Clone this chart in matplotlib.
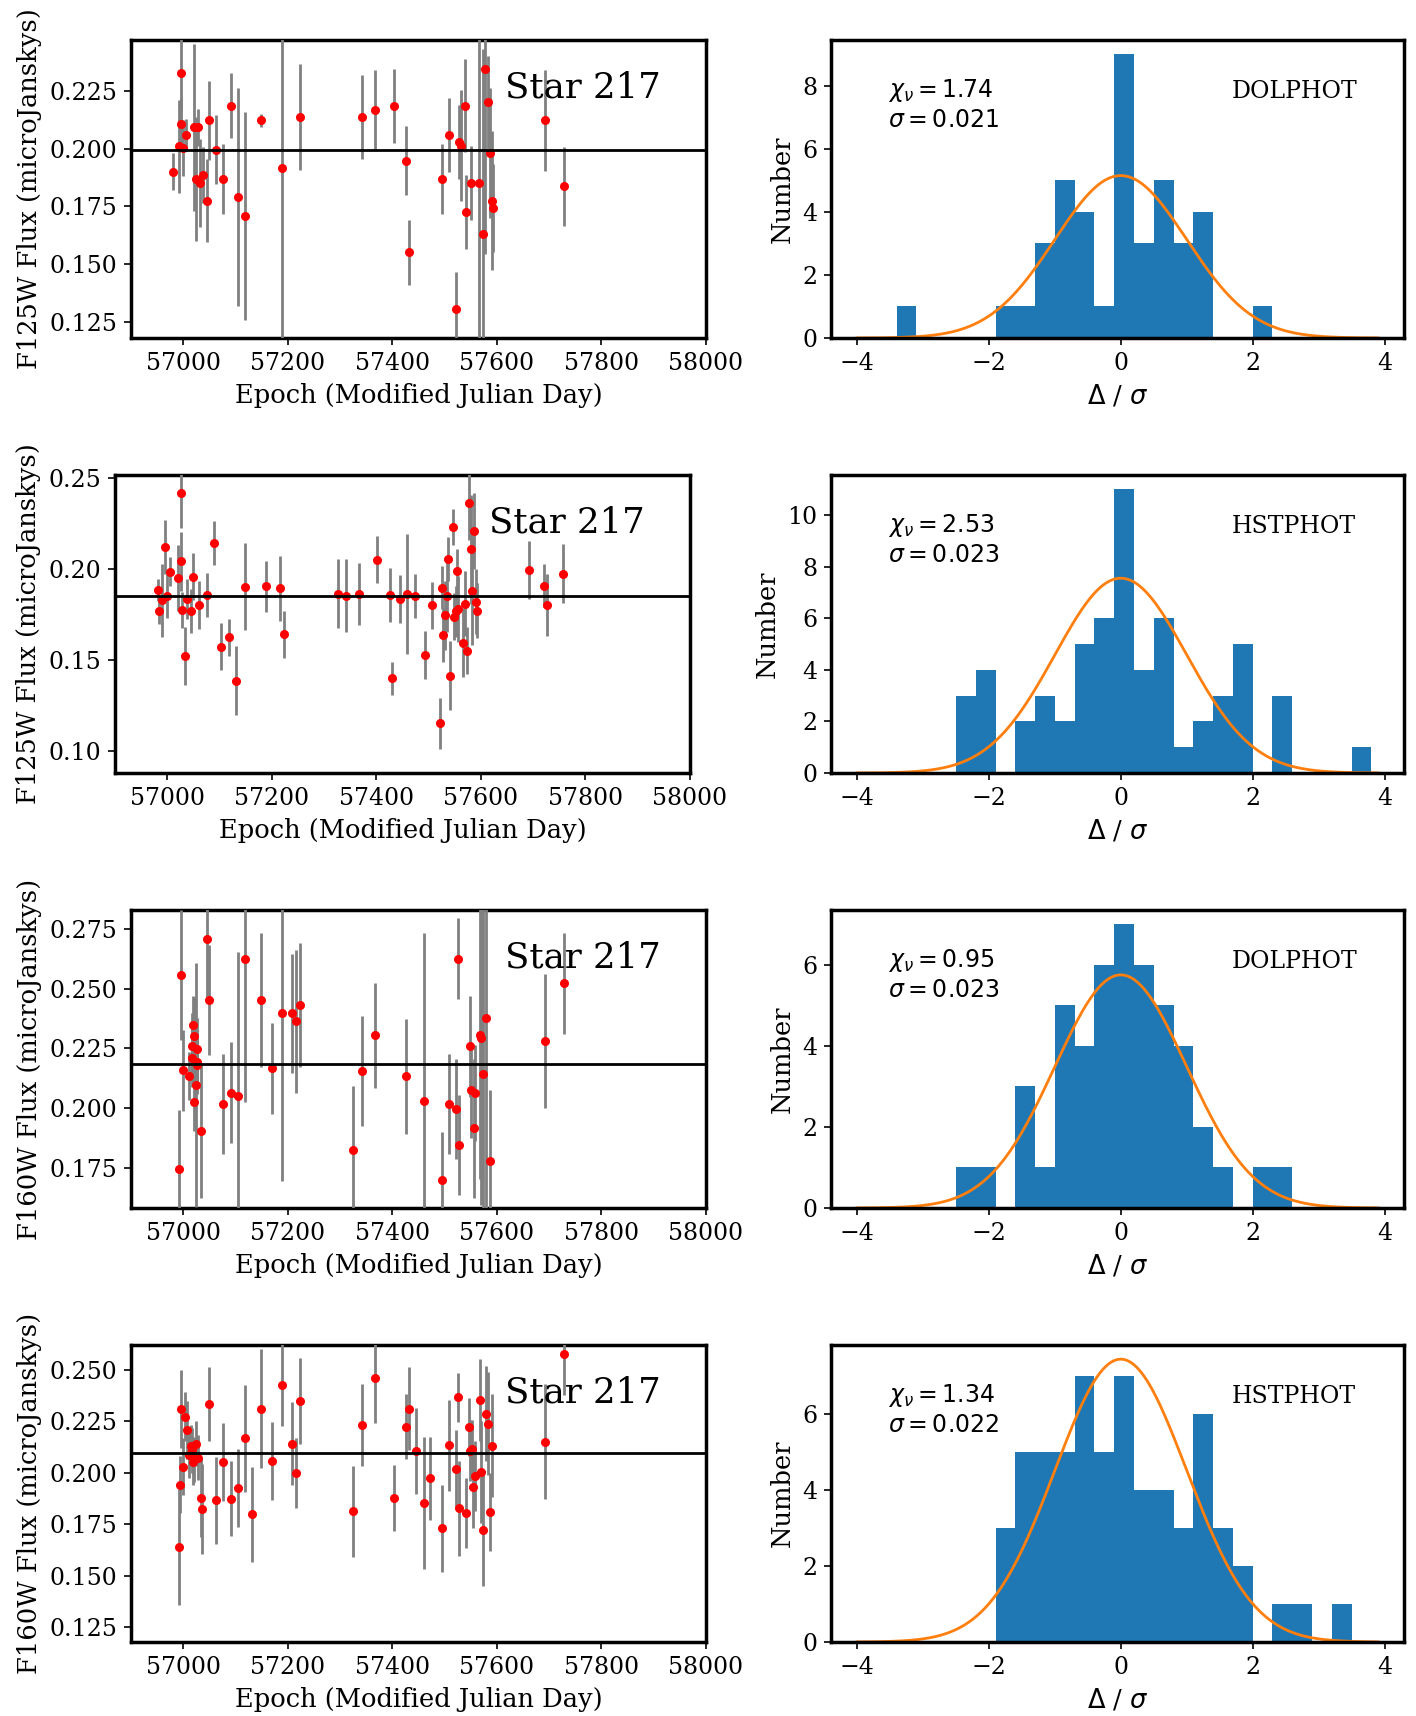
import numpy as np
import matplotlib
matplotlib.use("Agg")
import matplotlib.pyplot as plt

plt.rcParams['font.family'] = 'DejaVu Serif'
plt.rcParams['mathtext.fontset'] = 'dejavusans'

# ---------------- light-curve data ----------------
mjd1 = [56981, 56991, 56996.5, 56995, 57000, 57006, 57021, 57025, 57029, 57032.5,
        57037, 57045, 57049, 57062, 57076.5, 57090.5, 57104.6, 57118.7, 57149.4, 57189,
        57224, 57341, 57367.5, 57402.6, 57426, 57431, 57494, 57508, 57521, 57527.5,
        57532, 57539, 57541.5, 57550, 57566, 57573, 57577.5, 57583, 57586, 57590,
        57592.5, 57692, 57728]
flux1 = [0.1901, 0.2010, 0.2327, 0.2107, 0.2003, 0.2059, 0.2092, 0.1869, 0.2092, 0.1851,
         0.1886, 0.1775, 0.2122, 0.1996, 0.1869, 0.2186, 0.1791, 0.1710, 0.2122, 0.1916,
         0.2137, 0.2137, 0.2169, 0.2186, 0.1948, 0.1552, 0.1869, 0.2059, 0.1307, 0.2029,
         0.2013, 0.2186, 0.1726, 0.1853, 0.1853, 0.1631, 0.2344, 0.2200, 0.1981, 0.1775,
         0.1742, 0.2122, 0.1837]
err1 = [0.008, 0.020, 0.016, 0.011, 0.012, 0.007, 0.036, 0.027, 0.008, 0.019,
        0.012, 0.018, 0.017, 0.015, 0.015, 0.014, 0.047, 0.045, 0.003, 0.080,
        0.023, 0.018, 0.017, 0.016, 0.015, 0.014, 0.015, 0.016, 0.016, 0.016,
        0.024, 0.020, 0.016, 0.016, 0.080, 0.080, 0.080, 0.020, 0.028, 0.030,
        0.019, 0.022, 0.017]

mjd2 = [56982.4, 56983.3, 56990, 56995.6, 57000, 57006, 57021, 57025.5, 57026, 57029,
        57033.4, 57037, 57045, 57049, 57061.5, 57076.5, 57089.7, 57103.7, 57117.8, 57131.9,
        57148.6, 57188, 57216, 57224, 57326, 57341, 57367.5, 57401.8, 57426.4, 57430.8,
        57444.8, 57458.9, 57473, 57493, 57507, 57521.3, 57524.8, 57526.6, 57531.9, 57535.4,
        57537, 57541.5, 57546, 57549.4, 57553.8, 57552, 57556.5, 57566, 57569.6, 57573,
        57576.7, 57580.2, 57583.7, 57586.4, 57590, 57592.5, 57691.9, 57720.9, 57727, 57757]
flux2 = [0.1881, 0.1765, 0.1827, 0.2119, 0.1850, 0.1984, 0.1949, 0.2040, 0.2414, 0.1772,
         0.1522, 0.1832, 0.1766, 0.1956, 0.1801, 0.1854, 0.2142, 0.1571, 0.1622, 0.1385,
         0.1901, 0.1903, 0.1892, 0.1640, 0.1863, 0.1852, 0.1863, 0.2049, 0.1856, 0.1398,
         0.1834, 0.1861, 0.1850, 0.1526, 0.1799, 0.1150, 0.1896, 0.1635, 0.1743, 0.1850,
         0.2055, 0.1411, 0.2228, 0.1737, 0.1989, 0.1766, 0.1779, 0.1593, 0.1808, 0.1549,
         0.2360, 0.2106, 0.1880, 0.2206, 0.1819, 0.1770, 0.1991, 0.1907, 0.1799, 0.1973]
err2 = [0.006, 0.007, 0.020, 0.015, 0.012, 0.008, 0.018, 0.016, 0.019, 0.010,
        0.016, 0.011, 0.012, 0.013, 0.013, 0.012, 0.012, 0.013, 0.010, 0.019,
        0.024, 0.014, 0.018, 0.013, 0.019, 0.020, 0.017, 0.013, 0.015, 0.009,
        0.013, 0.033, 0.012, 0.013, 0.013, 0.014, 0.012, 0.015, 0.019, 0.020,
        0.012, 0.019, 0.010, 0.013, 0.012, 0.014, 0.018, 0.019, 0.018, 0.013,
        0.020, 0.030, 0.030, 0.021, 0.018, 0.015, 0.016, 0.012, 0.017, 0.016]

mjd3 = [56991.2, 56996.5, 57000, 57011.4, 57015.8, 57016.7, 57018.5, 57020.2, 57021, 57023.7,
        57026.4, 57027, 57026.4, 57033.4, 57044.8, 57049.2, 57076.5, 57090.5, 57104.6, 57118.7,
        57149.4, 57168.8, 57189, 57208.3, 57216.2, 57224, 57325.3, 57341, 57367.5, 57426.4,
        57459.8, 57494, 57508, 57521.3, 57524.8, 57527.5, 57548.6, 57551.2, 57556.5, 57558.2,
        57567, 57569.6, 57573.2, 57578.4, 57586.4, 57691.9, 57728]
flux3 = [0.1744, 0.2557, 0.2158, 0.2134, 0.2260, 0.2211, 0.2349, 0.2304, 0.2027, 0.2098,
         0.2246, 0.2194, 0.2180, 0.1904, 0.2706, 0.2454, 0.2018, 0.2065, 0.2053, 0.2626,
         0.2454, 0.2167, 0.2397, 0.2397, 0.2363, 0.2432, 0.1824, 0.2156, 0.2305, 0.2134,
         0.2031, 0.1699, 0.2018, 0.1997, 0.2626, 0.1847, 0.2259, 0.2077, 0.1916, 0.2065,
         0.2305, 0.2295, 0.2145, 0.2376, 0.1778, 0.2283, 0.2522]
err3 = [0.025, 0.027, 0.017, 0.010, 0.014, 0.012, 0.012, 0.016, 0.012, 0.051,
        0.013, 0.010, 0.012, 0.028, 0.025, 0.023, 0.021, 0.021, 0.060, 0.060,
        0.028, 0.019, 0.070, 0.025, 0.030, 0.026, 0.027, 0.023, 0.022, 0.024,
        0.070, 0.020, 0.021, 0.021, 0.017, 0.021, 0.021, 0.020, 0.029, 0.020,
        0.060, 0.070, 0.080, 0.080, 0.030, 0.028, 0.021]

mjd4 = [56991.2, 56993.8, 56996.5, 57000, 57002.6, 57007, 57011.4, 57014, 57016.7, 57019.3,
        57021, 57024.6, 57027.3, 57033.4, 57036, 57049.2, 57062.4, 57076.5, 57090.5, 57104.6,
        57118.7, 57131.9, 57149.4, 57168.8, 57189, 57208.3, 57216.2, 57224, 57325.3, 57341,
        57367.5, 57402.6, 57426.4, 57432.5, 57444.8, 57459.8, 57472, 57494, 57508, 57521.3,
        57524.8, 57527.5, 57541.5, 57546, 57549.4, 57552, 57554.7, 57557.4, 57567, 57569.6,
        57573.2, 57578.4, 57582.8, 57586.4, 57590, 57691.9, 57728]
flux4 = [0.1639, 0.1942, 0.2310, 0.2029, 0.2272, 0.2206, 0.2084, 0.2130, 0.2109, 0.2052,
         0.2065, 0.2141, 0.2073, 0.1878, 0.1823, 0.2334, 0.1865, 0.2053, 0.1874, 0.1924,
         0.2167, 0.1797, 0.2310, 0.2055, 0.2428, 0.2141, 0.2000, 0.2347, 0.1812, 0.2232,
         0.2462, 0.1878, 0.2224, 0.2311, 0.2105, 0.1852, 0.1972, 0.1729, 0.2133, 0.2016,
         0.2365, 0.1827, 0.1804, 0.2222, 0.2107, 0.2117, 0.1932, 0.1984, 0.2353, 0.2003,
         0.1721, 0.2287, 0.2238, 0.1809, 0.2131, 0.2151, 0.2575]
err4 = [0.028, 0.014, 0.019, 0.014, 0.012, 0.014, 0.011, 0.010, 0.011, 0.011,
        0.011, 0.011, 0.011, 0.019, 0.022, 0.018, 0.021, 0.019, 0.018, 0.019,
        0.026, 0.023, 0.029, 0.019, 0.020, 0.020, 0.017, 0.021, 0.022, 0.020,
        0.022, 0.016, 0.016, 0.020, 0.021, 0.032, 0.020, 0.021, 0.022, 0.019,
        0.012, 0.023, 0.017, 0.014, 0.015, 0.014, 0.020, 0.017, 0.020, 0.025,
        0.027, 0.023, 0.025, 0.019, 0.025, 0.028, 0.020]

mean_flux = [0.1995, 0.1850, 0.2186, 0.2096]
lc_ylims = [(0.1181, 0.2470), (0.0877, 0.2515), (0.1583, 0.2829), (0.1177, 0.2620)]
lc_ylabels = ["F125W Flux (microJanskys)", "F125W Flux (microJanskys)",
              "F160W Flux (microJanskys)", "F160W Flux (microJanskys)"]
star_label = "Star 217"

# ---------------- histogram data ----------------
bin_edges = np.round(np.arange(-4.0, 3.81, 0.3), 2)
counts1 = [0, 0, 1, 0, 0, 0, 0, 1, 1, 3, 5, 4, 1, 9, 3, 5, 3, 4, 0, 0, 1, 0, 0, 0, 0, 0]
counts2 = [0, 0, 0, 0, 0, 3, 4, 0, 2, 3, 2, 5, 6, 11, 4, 6, 1, 2, 3, 5, 0, 3, 0, 0, 0, 1]
counts3 = [0, 0, 0, 0, 0, 1, 1, 0, 3, 1, 5, 4, 6, 7, 6, 5, 4, 2, 1, 0, 1, 1, 0, 0, 0, 0]
counts4 = [0, 0, 0, 0, 0, 0, 0, 3, 5, 5, 5, 7, 5, 7, 4, 4, 3, 6, 3, 2, 0, 1, 1, 0, 1, 0]
gauss_peak = [5.15, 7.55, 5.75, 7.45]
chi_nu = ["1.74", "2.53", "0.95", "1.34"]
sigma_vals = ["0.021", "0.023", "0.023", "0.022"]
methods = ["DOLPHOT", "HSTPHOT", "DOLPHOT", "HSTPHOT"]

lcs = [(mjd1, flux1, err1), (mjd2, flux2, err2), (mjd3, flux3, err3), (mjd4, flux4, err4)]
hists = [counts1, counts2, counts3, counts4]

W, H = 1416, 1716
fig = plt.figure(figsize=(W / 100, H / 100), dpi=100)

row_top = [40, 475, 910, 1345]
row_bot = [338, 773, 1208, 1642]
left_x = [131, 115, 131, 131]
left_w = 575
right_x = 831
right_w = 573

TICK = 17
LAB = 18.5
TXT = 17


def style(a):
    a.tick_params(labelsize=TICK, length=5, width=1.2, pad=5)
    for s in a.spines.values():
        s.set_linewidth(2.5)


for i in range(4):
    b = (H - row_bot[i]) / H
    h = (row_bot[i] - row_top[i]) / H
    # light curve
    ax = fig.add_axes([left_x[i] / W, b, left_w / W, h])
    m, f, e = lcs[i]
    ax.errorbar(m, f, yerr=e, fmt='o', color='red', ecolor='gray',
                elinewidth=2, markersize=5.5, capsize=0, zorder=3)
    ax.axhline(mean_flux[i], color='black', lw=2, zorder=4)
    ax.set_xlim(56900, 58000)
    ax.set_xticks([57000, 57200, 57400, 57600, 57800, 58000])
    ax.set_ylim(*lc_ylims[i])
    ax.set_xlabel("Epoch (Modified Julian Day)", fontsize=LAB, labelpad=5.5)
    ax.set_ylabel(lc_ylabels[i], fontsize=LAB, labelpad=5.5)
    ax.text(0.65, 0.84, star_label, transform=ax.transAxes, fontsize=25.6,
            ha='left', va='center')
    style(ax)

    # histogram
    axh = fig.add_axes([right_x / W, b, right_w / W, h])
    centers = (bin_edges[:-1] + bin_edges[1:]) / 2
    axh.hist(centers, bins=bin_edges, weights=hists[i], color='C0')
    xg = np.linspace(-4, 3.9, 400)
    axh.plot(xg, gauss_peak[i] * np.exp(-xg ** 2 / 2), color='C1', lw=2)
    axh.set_xlim(-4.395, 4.295)
    axh.set_xticks([-4, -2, 0, 2, 4])
    axh.set_xlabel(r"$\Delta$ / $\sigma$", fontsize=LAB, labelpad=5.5)
    axh.set_ylabel("Number", fontsize=LAB, labelpad=5.5)
    axh.text(0.10, 0.875, r"$\chi_\nu = %s$" % chi_nu[i] + "\n" + r"$\sigma = %s$" % sigma_vals[i],
             transform=axh.transAxes, fontsize=TXT, ha='left', va='top', linespacing=1.25)
    axh.text(0.70, 0.826, methods[i], transform=axh.transAxes, fontsize=TXT,
             ha='left', va='center')
    style(axh)

fig.savefig("out.png", dpi=100)
